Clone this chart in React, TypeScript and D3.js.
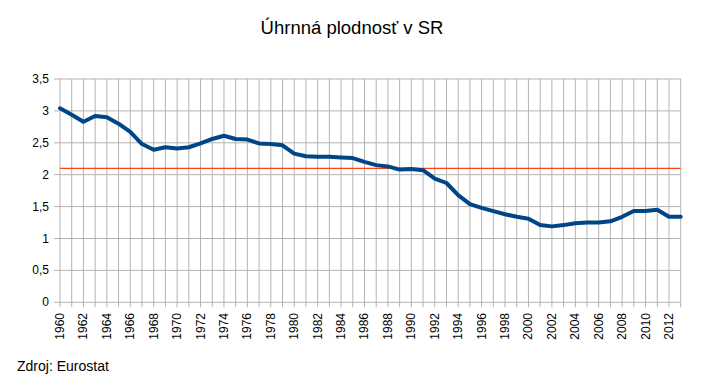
import React from "react";
import * as d3 from "d3";

const years: number[] = d3.range(1960, 2014);
const tfr: number[] = [
  3.04, 2.94, 2.83, 2.92, 2.9, 2.8, 2.67, 2.48, 2.39, 2.43,
  2.41, 2.43, 2.49, 2.56, 2.61, 2.56, 2.55, 2.49, 2.48, 2.46,
  2.33, 2.29, 2.28, 2.28, 2.27, 2.26, 2.2, 2.15, 2.13, 2.08,
  2.09, 2.07, 1.94, 1.87, 1.68, 1.54, 1.48, 1.43, 1.38, 1.34,
  1.31, 1.21, 1.19, 1.21, 1.24, 1.25, 1.25, 1.27, 1.34, 1.43,
  1.43, 1.45, 1.34, 1.34,
];
const replacementLevel = 2.1;
const yTicks: number[] = [0, 0.5, 1, 1.5, 2, 2.5, 3, 3.5];
const title = "Úhrnná plodnosť v SR";
const source = "Zdroj: Eurostat";

export default function App() {
  const W = 715, H = 376;
  const left = 60, right = 680.7, top = 79, bottom = 302.3;
  const x = d3.scaleLinear().domain([1960, 2013]).range([left, right]);
  const y = d3.scaleLinear().domain([0, 3.5]).range([bottom, top]);
  const line = d3
    .line<number>()
    .x((_, i) => x(years[i]))
    .y((d) => y(d));
  const font = "'Liberation Sans', Arial, sans-serif";
  const fmt = (v: number) => String(v).replace(".", ",");
  return (
    <svg
      width={W}
      height={H}
      style={{ position: "absolute", left: 0, top: 0, background: "#fff" }}
      fontFamily={font}
    >
      <rect width={W} height={H} fill="#fff" />
      <text x={352} y={34} textAnchor="middle" fontSize={18.5} fill="#000">
        {title}
      </text>
      {years.map((yr) => (
        <line
          key={"v" + yr}
          x1={x(yr)}
          x2={x(yr)}
          y1={top}
          y2={bottom + 5}
          stroke="#b3b3b3"
          strokeWidth={1}
        />
      ))}
      {yTicks.map((t) => (
        <line
          key={"h" + t}
          x1={left - 6}
          x2={right}
          y1={y(t)}
          y2={y(t)}
          stroke="#b3b3b3"
          strokeWidth={1}
        />
      ))}
      {yTicks.map((t) => (
        <text
          key={"yl" + t}
          x={49}
          y={y(t) + 4}
          textAnchor="end"
          fontSize={12}
          fill="#000"
        >
          {fmt(t)}
        </text>
      ))}
      {years
        .filter((yr) => yr % 2 === 0)
        .map((yr) => (
          <text
            key={"xl" + yr}
            transform={`translate(${x(yr) + 4},${313}) rotate(-90)`}
            textAnchor="end"
            fontSize={12}
            fill="#000"
          >
            {yr}
          </text>
        ))}
      <line
        x1={left}
        x2={right}
        y1={y(replacementLevel)}
        y2={y(replacementLevel)}
        stroke="#ff420e"
        strokeWidth={1.2}
      />
      <path
        d={line(tfr) || ""}
        fill="none"
        stroke="#004586"
        strokeWidth={4}
        strokeLinejoin="round"
        strokeLinecap="round"
      />
      <text x={17} y={371} fontSize={14} fill="#000">
        {source}
      </text>
    </svg>
  );
}
